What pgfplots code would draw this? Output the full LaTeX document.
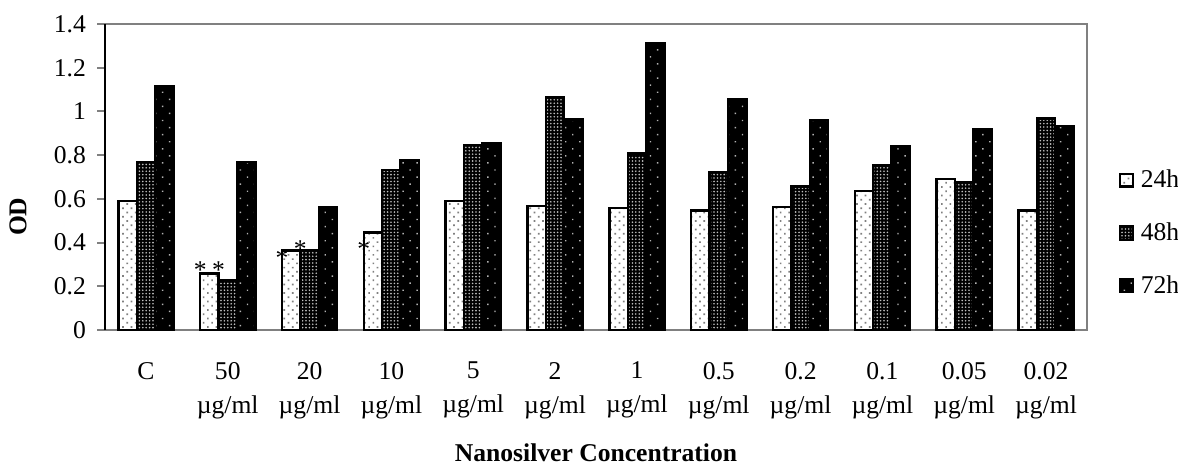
\documentclass[border=0pt]{standalone}
\usepackage{fontspec}
\setmainfont{Liberation Serif}
\usepackage{pgfplots}
\pgfplotsset{compat=1.18}
\usetikzlibrary{patterns.meta}
\newcommand{\fs}{\fontsize{12.8}{17}\selectfont}
\pgfplotsset{
  p24/.style={draw=black, line width=1.2pt, preaction={fill=white}, pattern={Dots[angle=45, distance=3pt, radius=0.6pt]}, pattern color=gray},
  p48/.style={draw=black, line width=1.2pt, preaction={fill=black}, pattern={Dots[distance=1.7pt, radius=0.45pt]}, pattern color=white!75!black},
  p72/.style={draw=black, line width=1.2pt, preaction={fill=black}, pattern={Dots[angle=45, distance=5pt, radius=0.5pt]}, pattern color=gray!60!white},
}
\begin{document}
\begin{tikzpicture}
\useasboundingbox (-52.5pt,-68.5pt) rectangle (536.5pt,165pt);
\begin{axis}[
  scale only axis, width=491pt, height=153pt,
  ybar=0pt, bar width=9.2pt,
  xmin=-0.5, xmax=11.5, ymin=0, ymax=1.4,
  ytick={0,0.2,0.4,0.6,0.8,1,1.2,1.4},
  xtick={0,...,11},
  xtick pos=bottom, ytick pos=left,
  xticklabels={C,{50\\µg/ml},{20\\µg/ml},{10\\µg/ml},{5\\µg/ml},{2\\µg/ml},{1\\µg/ml},{0.5\\µg/ml},{0.2\\µg/ml},{0.1\\µg/ml},{0.05\\µg/ml},{0.02\\µg/ml}},
  xticklabel style={align=center, font=\fs, anchor=north, yshift=-8.5pt},
  yticklabel style={font=\fs, xshift=-2pt},
  /pgf/number format/assume math mode=true,
  tick align=outside,
  major x tick style={draw=none},
  ytick style={gray, line width=1pt},
  major tick length=4pt,
  extra x ticks={-0.5,0.5,...,11.5},
  extra x tick labels={},
  extra x tick style={tick style={gray, line width=1pt}, major tick length=3.5pt},
  axis line style={gray, line width=1pt},
  xlabel={Nanosilver Concentration},
  xlabel style={font=\bfseries\fs, at={(axis description cs:0.5,-0.402)}, anchor=center, inner sep=0pt},
  ylabel={OD},
  ylabel style={font=\bfseries\fs, at={(axis description cs:-0.0886,0.37)}, anchor=center},
  legend style={draw=none, at={(axis description cs:1.0326,0.317)}, anchor=west, font=\fs, row sep=12pt, inner sep=0pt, nodes={inner xsep=3.5pt}},
  legend cell align=left,
  legend image code/.code={\draw[#1, line width=0.8pt] (0pt,-3.2pt) rectangle (6.4pt,3.2pt);},
  clip=false,
]
\addplot[p24] coordinates {(0,0.590) (1,0.259) (2,0.363) (3,0.447) (4,0.590) (5,0.566) (6,0.557) (7,0.546) (8,0.563) (9,0.636) (10,0.691) (11,0.546)};
\addplot[p48] coordinates {(0,0.768) (1,0.229) (2,0.367) (3,0.732) (4,0.846) (5,1.066) (6,0.807) (7,0.724) (8,0.657) (9,0.753) (10,0.677) (11,0.968)};
\addplot[p72] coordinates {(0,1.115) (1,0.768) (2,0.561) (3,0.775) (4,0.854) (5,0.964) (6,1.311) (7,1.055) (8,0.962) (9,0.840) (10,0.918) (11,0.933)};
\legend{24h,48h,72h}
\addplot[draw=none, fill=none, forget plot, bar shift=-13.8pt, nodes near coords={*}, nodes near coords style={anchor=center, font=\fs, inner sep=0pt}] coordinates {(1,0.274) (2,0.327) (3,0.368)};
\addplot[draw=none, fill=none, forget plot, bar shift=-4.6pt, nodes near coords={*}, nodes near coords style={anchor=center, font=\fs, inner sep=0pt}] coordinates {(1,0.274) (2,0.370)};
\draw[black, line width=1pt] (rel axis cs:0,0) -- (rel axis cs:0,1);
\end{axis}
\end{tikzpicture}
\end{document}
